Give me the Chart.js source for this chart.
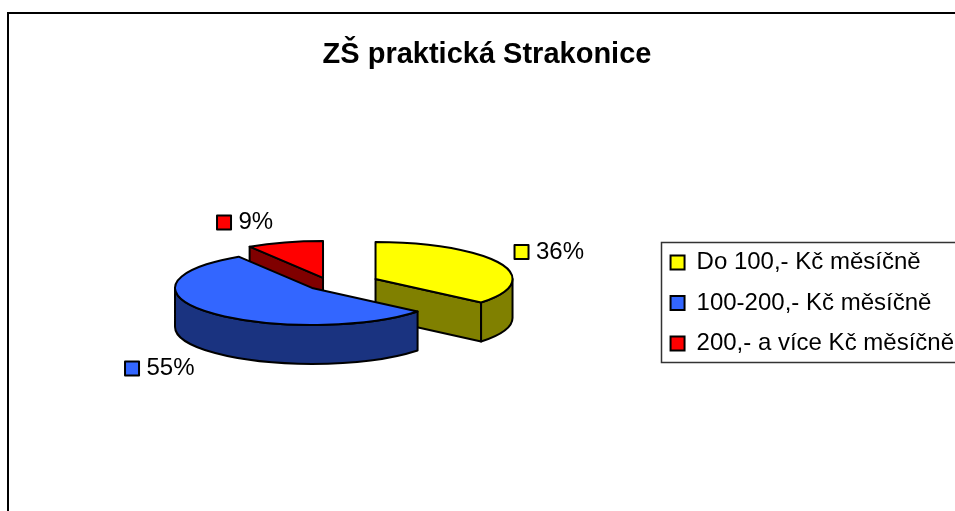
<!DOCTYPE html>
<html lang="cs">
<head>
<meta charset="utf-8">
<title>ZŠ praktická Strakonice</title>
<style>
html,body{margin:0;padding:0;background:#fff;width:955px;height:511px;overflow:hidden}
canvas{display:block}
</style>
<script src="https://cdn.jsdelivr.net/npm/chart.js@4"></script>
</head>
<body>
<canvas id="c" width="974" height="520"></canvas>
<script>
const chartTitle = "ZŠ praktická Strakonice";
const categories = ["Do 100,- Kč měsíčně", "100-200,- Kč měsíčně", "200,- a více Kč měsíčně"];
const seriesValues = [36, 55, 9];
const topColors = ["#FFFF00", "#3366FF", "#FF0000"];
const wallColors = ["#808000", "#1A3380", "#800000"];

// 3D look: exploded offsets and label anchors, relative to each slice
const FONT = '"Liberation Sans", Arial, sans-serif';
const squash = 0.27, depth = 39;
const explode = [[43.5, -24], [-20, -15], [-9, -25]];
const labelOffset = [[139, -27], [-187, 80.5], [-106, -55.5]];

const pie3d = {
  id: "pie3d",
  beforeDraw(chart) {
    const c = chart.ctx;
    c.save();
    c.strokeStyle = "#000"; c.lineWidth = 2;
    c.strokeRect(8, 13, 1000, 600);
    c.strokeStyle = "#333"; c.lineWidth = 1.5;
    c.strokeRect(661.5, 242.5, 330, 120);
    c.restore();
  },
  beforeDatasetDraw(chart, args) {
    const c = chart.ctx;
    const arcs = chart.getDatasetMeta(args.index).data;
    const order = arcs.map((_, i) => i).sort((a, b) => explode[a][1] - explode[b][1]);
    c.save();
    c.lineJoin = "round";
    c.lineWidth = 2;
    c.strokeStyle = "#000";
    for (const i of order) {
      const a = arcs[i];
      const cx = a.x + explode[i][0], cy = a.y + explode[i][1];
      const R = a.outerRadius, r = R * squash;
      const s = a.startAngle, e = a.endAngle;
      // radial cut faces that look towards the viewer
      const faces = [];
      if (Math.cos(e) > 1e-6) faces.push(e);
      if (-Math.cos(s) > 1e-6) faces.push(s);
      c.fillStyle = wallColors[i];
      for (const f of faces) {
        const px = cx + R * Math.cos(f), py = cy + r * Math.sin(f);
        c.beginPath();
        c.moveTo(cx, cy);
        c.lineTo(px, py);
        c.lineTo(px, py + depth);
        c.lineTo(cx, cy + depth);
        c.closePath();
        c.fill(); c.stroke();
      }
      // outer wall, front half only
      const lo = Math.max(s, 0), hi = Math.min(e, Math.PI);
      if (hi > lo) {
        c.beginPath();
        c.ellipse(cx, cy, R, r, 0, lo, hi);
        c.ellipse(cx, cy + depth, R, r, 0, hi, lo, true);
        c.closePath();
        c.fill(); c.stroke();
      }
      // top surface
      c.fillStyle = a.options.backgroundColor;
      c.beginPath();
      c.moveTo(cx, cy);
      c.ellipse(cx, cy, R, r, 0, s, e);
      c.closePath();
      c.fill(); c.stroke();
    }
    // percentage labels with legend keys
    c.font = "24px " + FONT;
    c.textBaseline = "middle";
    c.textAlign = "left";
    arcs.forEach((a, i) => {
      const x = a.x + explode[i][0] + labelOffset[i][0];
      const y = a.y + explode[i][1] + labelOffset[i][1];
      c.fillStyle = topColors[i];
      c.fillRect(x, y - 7, 14, 14);
      c.strokeRect(x, y - 7, 14, 14);
      c.fillStyle = "#000";
      c.fillText(seriesValues[i] + "%", x + 21.5, y);
    });
    c.restore();
    return false;
  }
};

new Chart(document.getElementById("c"), {
  type: "pie",
  data: {
    labels: categories,
    datasets: [{
      data: seriesValues,
      backgroundColor: topColors,
      borderColor: "#000",
      borderWidth: 2,
      radius: 137
    }]
  },
  options: {
    responsive: false,
    animation: false,
    layout: { padding: { left: 10, right: 10, top: 0, bottom: 0 } },
    plugins: {
      title: {
        display: true,
        text: chartTitle,
        color: "#000",
        font: { family: FONT, size: 29, weight: "bold" },
        padding: { top: 38, bottom: 13 }
      },
      legend: {
        position: "right",
        fullSize: false,
        labels: {
          color: "#000",
          font: { family: FONT, size: 24 },
          boxWidth: 14,
          boxHeight: 14,
          padding: 16.5
        }
      },
      tooltip: { enabled: false }
    }
  },
  plugins: [pie3d]
});
</script>
</body>
</html>
